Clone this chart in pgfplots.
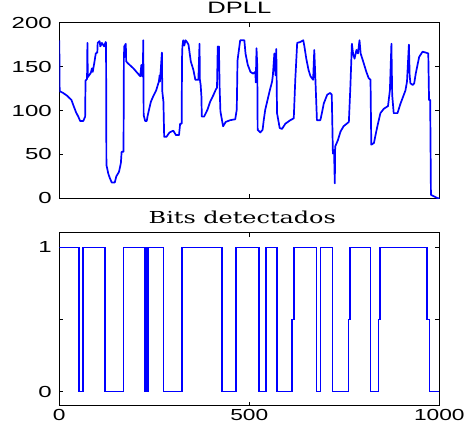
\documentclass[border=0pt]{standalone}
\usepackage{fontspec}
\setmainfont{Liberation Sans}
\newfontfamily\titleserif{DejaVu Serif}
\usepackage{graphicx}
\usepackage{pgfplots}
\pgfplotsset{compat=1.18}
\pgfplotsset{
  mystyle/.style={
    scale only axis, width=380pt,
    xmin=0, xmax=1000,
    axis line style={line width=1pt, black},
    tick style={black, line width=0.8pt},
    major tick length=4pt,
    tick align=inside,
    tick label style={font=\fontsize{16}{16}\selectfont},
    /pgf/number format/assume math mode=true,
    /pgf/number format/1000 sep={},
    yticklabel={\scalebox{1.5}[1]{\pgfmathprintnumber{\tick}}},
    yticklabel style={xshift=-4pt},
    title style={font=\fontsize{16.5}{16.5}\selectfont, inner sep=3pt},
    xtick={0,500,1000},
  }
}
\begin{document}
\begin{tikzpicture}
\begin{axis}[mystyle, name=top, at={(0pt,0pt)}, anchor=south west,
  height=175.6pt, ymin=0, ymax=200, ytick={0,50,100,150,200},
  xticklabels={,,},
  title={\scalebox{1.55}[1]{DPLL}}, title style={xshift=-10pt}]
\addplot[blue, line width=1.7pt, line join=round] coordinates {
(0,180)(1,122)(10,120)(20,117)(32,112)(37,106)(44,98)(50,93)(55,88)(63,88)(68,93)
(69,134)(73,136)(74,177)(75,138)(80,141)(83,143)(86,148)(88,144)(92,154)(96,165)
(100,166)(101,177)(106,179)(108,173)(112,177)(118,173)(122,178)(123,177)(124,38)
(129,28)(133,23)(138,18)(146,18)(150,25)(157,30)(162,40)(164,53)(169,53)(170,160)
(171,173)(175,176)(176,156)(180,154)(195,148)(205,143)(213,139)(216,152)(218,139)
(220,150)(221,180)(222,95)(226,88)(230,88)(233,95)(241,110)(247,116)(255,123)
(262,133)(264,140)(265,133)(270,166)(271,122)(274,110)(276,70)(282,70)(290,75)
(300,77)(307,72)(315,72)(318,85)(322,85)(323,160)(324,173)(326,180)(329,174)
(332,180)(336,178)(340,175)(346,156)(353,146)(358,135)(366,135)(369,176)(370,135)
(372,129)(374,116)(375,93)(381,93)(390,101)(397,110)(406,118)(412,124)(415,126)
(417,173)(419,161)(420,173)(422,125)(424,99)(431,82)(438,87)(450,89)(463,90)
(467,101)(469,157)(476,180)(487,180)(490,165)(496,152)(503,144)(510,142)(516,144)
(517,132)(519,171)(521,150)(522,78)(529,75)(535,78)(538,89)(542,101)(548,112)
(554,123)(560,133)(562,140)(566,165)(569,140)(571,170)(573,97)(580,80)(586,79)
(595,85)(608,89)(617,91)(621,135)(626,177)(634,178)(642,180)(645,173)(650,159)
(656,146)(661,139)(668,135)(671,169)(674,135)(678,89)(687,89)(691,97)(696,108)
(705,118)(713,120)(717,118)(720,51)(723,55)(725,17)(726,59)(733,66)(740,76)
(748,82)(762,87)(766,127)(770,176)(773,165)(777,159)(782,169)(786,165)(790,180)
(793,165)(801,154)(808,144)(814,137)(819,135)(821,61)(828,63)(836,80)(845,97)
(854,102)(865,105)(870,123)(874,176)(876,118)(880,97)(890,97)(898,108)(905,116)
(911,123)(915,133)(920,175)(922,140)(924,131)(930,129)(934,131)(938,142)(947,161)
(956,167)(964,166)(971,165)(973,112)(976,112)(978,4)(987,2)(996,0)(1000,0)
};
\end{axis}
\begin{axis}[mystyle, name=bottom, at={(0pt,-34.7pt)}, anchor=north west,
  height=173pt, ymin=-0.1, ymax=1.1, ytick={0,1},
  xticklabel={\scalebox{1.42}[1]{\pgfmathprintnumber{\tick}}},
  extra y ticks={0.5}, extra y tick labels={},
  title={\titleserif\scalebox{1.45}[1]{Bits detectados}}, title style={xshift=-7pt}]
\addplot[blue, line width=1.7pt] coordinates {
(0,1)(51,1)(51,0)(63,0)(63,1)(121,1)(121,0)(169,0)(169,1)(225,1)(225,0)(227,0)
(227,1)(229,1)(229,0)(231,0)(231,1)(233,1)(233,0)(234,0)(234,1)(274,1)(274,0)
(322,0)(322,1)(428,1)(428,0)(465,0)(465,1)(525,1)(525,0)(544,0)(544,1)(572,1)
(572,0)(613,0)(613,0.5)(617,0.5)(617,1)(677,1)(677,0)(687,0)(687,1)(719,1)(719,0)
(761,0)(761,0.5)(765,0.5)(765,1)(819,1)(819,0)(840,0)(840,0.5)(844,0.5)(844,1)
(968,1)(968,0.5)(974,0.5)(974,0)(1000,0)
};
\end{axis}
\pgfresetboundingbox
\path[use as bounding box] (-59.3pt,-232.7pt) rectangle (404.7pt,198.3pt);
\end{tikzpicture}
\end{document}
